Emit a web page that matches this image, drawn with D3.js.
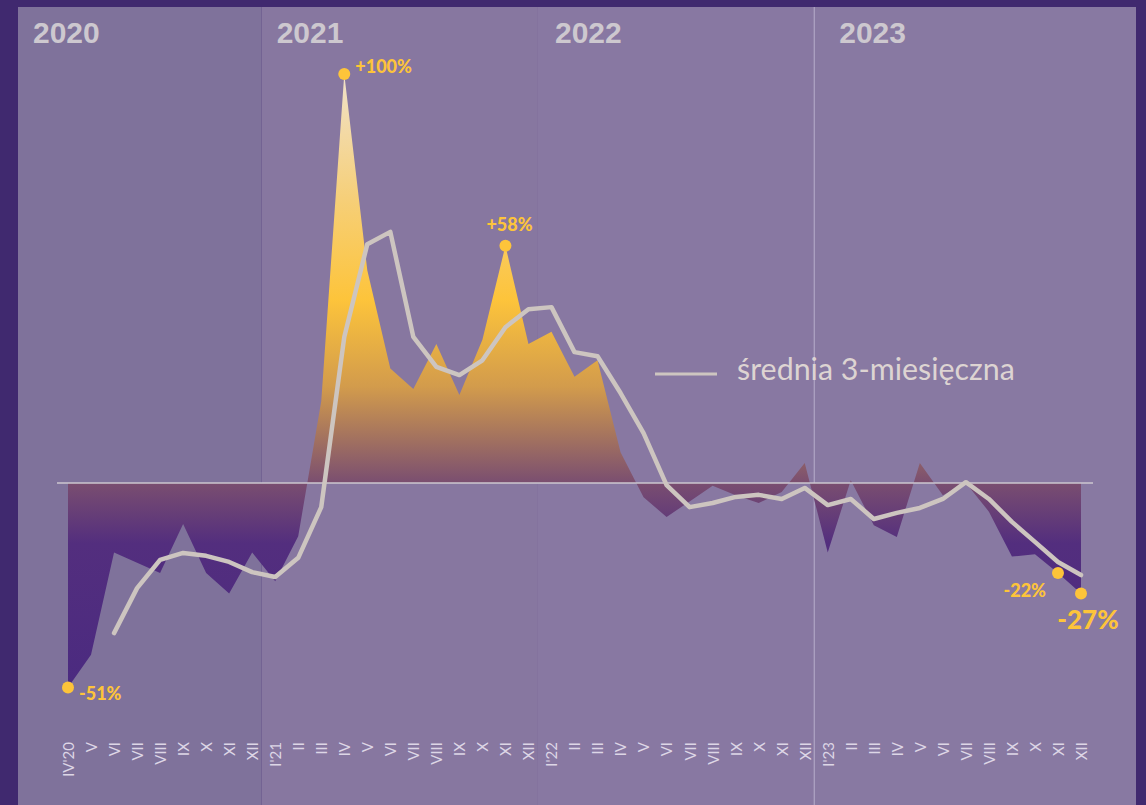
<!DOCTYPE html>
<html><head><meta charset="utf-8">
<script src="https://cdn.jsdelivr.net/npm/d3@7"></script>
<style>
html,body{margin:0;padding:0;background:#40296f;}
svg{display:block;}
</style></head>
<body>
<svg id="chart" width="1146" height="805"></svg>
<script>
// ---- data ----
const months = ["IV'20","V","VI","VII","VIII","IX","X","XI","XII",
  "I'21","II","III","IV","V","VI","VII","VIII","IX","X","XI","XII",
  "I'22","II","III","IV","V","VI","VII","VIII","IX","X","XI","XII",
  "I'23","II","III","IV","V","VI","VII","VIII","IX","X","XI","XII"];
const monthly = [-50,-42,-17,-19.5,-22,-10,-22,-27,-17,
  -24,-13,20,100,52,28,23,34,21.5,35,58,34,
  37,26,30,7.5,-3.5,-8.3,-4.5,-0.7,-3,-4.9,-2.2,4.9,
  -17,0.7,-10.3,-13.2,4.9,-3,0,-7,-18,-17.4,-22,-27];
const avg3 = [null,null,-36.7,-25.7,-18.8,-17.1,-17.8,-19.3,-21.8,
  -23,-18.3,-5.9,35.7,58.4,61.4,35.7,28.4,26.4,30,38.1,42.5,
  43,32,31,22,12.2,-0.5,-5.9,-4.9,-3.4,-2.9,-3.9,-1.2,
  -5.4,-3.9,-8.8,-7.3,-6.1,-3.9,0.2,-3.9,-9.5,-14.4,-19.3,-22.5];
const years = ["2020","2021","2022","2023"];
const yearStart = [0,9,21,33];           // month index where each year begins
const highlights = [
  {i:0,  v:-50, label:"-51%"},
  {i:12, v:100, label:"+100%"},
  {i:19, v:58,  label:"+58%"},
  {i:43, v:-22, label:"-22%"},
  {i:44, v:-27, label:"-27%"}
];
const legendLabel = "średnia 3-miesięczna";

// ---- layout ----
const W = 1146, H = 805;
const panel = {x0:18, x1:1136, y0:7, y1:805};
const svg = d3.select("#chart");
const x = d3.scaleLinear().domain([0, months.length-1]).range([68, 1081]);
const y = d3.scaleLinear().domain([0, 100]).range([483, 74]);

svg.append("rect").attr("width",W).attr("height",H).attr("fill","#40296f");

// year bands
const bandFill = ["#7f729b","#8777a0","#8878a2","#8879a2"];
const bandEdges = yearStart.map((s,k)=> k===0 ? panel.x0 : (x(s-1)+x(s))/2 - 2);
bandEdges.push(panel.x1);
years.forEach((yr,k)=>{
  svg.append("rect")
    .attr("x", bandEdges[k]).attr("y", panel.y0)
    .attr("width", bandEdges[k+1]-bandEdges[k]).attr("height", panel.y1-panel.y0)
    .attr("fill", bandFill[k]);
});
// thin separator before 2023
svg.append("line").attr("x1",bandEdges[3]).attr("x2",bandEdges[3])
  .attr("y1",panel.y0).attr("y2",panel.y1)
  .attr("stroke","#bcb2cf").attr("stroke-width",1);

// year labels
const yearLabelOffset = [15, 15, 17, 25];
years.forEach((yr,k)=>{
  svg.append("text").attr("x", bandEdges[k]+yearLabelOffset[k]).attr("y", 43)
    .attr("font-family","'Liberation Sans', Arial, sans-serif")
    .attr("font-weight","bold").attr("font-size",30)
    .attr("fill","#cdc8cf").text(yr);
});

// gradient
const defs = svg.append("defs");
const grad = defs.append("linearGradient").attr("id","areaGrad")
  .attr("gradientUnits","userSpaceOnUse")
  .attr("x1",0).attr("x2",0).attr("y1",y(100)).attr("y2",700);
[[0,"#f0e2cb"],[0.2,"#f6cf78"],[0.36,"#fdc43b"],[0.5,"#d29b4c"],[0.653,"#7a4e70"],[0.75,"#532e7e"],[1,"#4a2a80"]]
  .forEach(([o,c])=>grad.append("stop").attr("offset",o).attr("stop-color",c));

// area
const area = d3.area().x((d,i)=>x(i)).y0(y(0)).y1(d=>y(d));
svg.append("path").datum(monthly).attr("d",area).attr("fill","url(#areaGrad)");

// zero line
svg.append("line").attr("x1",57).attr("x2",1093).attr("y1",y(0)).attr("y2",y(0))
  .attr("stroke","#cdc7cf").attr("stroke-width",1.6);

// moving average line
const line = d3.line().defined(d=>d!==null).x((d,i)=>x(i)).y(d=>y(d));
svg.append("path").datum(avg3).attr("d",line).attr("fill","none")
  .attr("stroke","#cdc5c0").attr("stroke-width",4.5)
  .attr("stroke-linejoin","round").attr("stroke-linecap","round");

// x axis
const axis = d3.axisBottom(x).tickValues(d3.range(months.length))
  .tickFormat(i=>months[i]).tickSize(0);
const gx = svg.append("g").attr("transform","translate(0,742)").call(axis);
gx.select(".domain").remove();
gx.selectAll("text")
  .attr("x",0).attr("y",0).attr("dy","0.36em")
  .attr("transform","rotate(-90)")
  .style("text-anchor","end")
  .attr("font-family","Lato, 'Open Sans', sans-serif")
  .attr("font-size",15).attr("fill","#ddd6e6");

// highlights
const lblStyle = {
  "-51%":{dx:11,dy:12,anchor:"start",size:18},
  "+100%":{dx:11,dy:-1,anchor:"start",size:18},
  "+58%":{dx:-19,dy:-15,anchor:"start",size:18},
  "-22%":{dx:-12,dy:24,anchor:"end",size:18},
  "-27%":{dx:7,dy:36,anchor:"middle",size:26}
};
highlights.forEach(h=>{
  const cx = x(h.i), cy = y(h.v), s = lblStyle[h.label];
  svg.append("circle").attr("cx",cx).attr("cy",cy).attr("r",6).attr("fill","#fdc43a");
  svg.append("text").attr("x",cx+s.dx).attr("y",cy+s.dy)
    .attr("text-anchor",s.anchor)
    .attr("font-family","Lato, 'Open Sans', sans-serif")
    .attr("font-weight",900).attr("font-size",s.size)
    .attr("fill","#fdc43a").text(h.label);
});

// legend
svg.append("line").attr("x1",655).attr("x2",717).attr("y1",374).attr("y2",374)
  .attr("stroke","#cdc5c0").attr("stroke-width",3);
const lt = svg.append("text").attr("x",737).attr("y",380)
  .attr("font-family","Lato, 'Open Sans', sans-serif")
  .attr("font-size",100).attr("fill","#ddd4d2").text(legendLabel);
const w100 = lt.node().getComputedTextLength();
lt.attr("font-size", 100*278/w100);
</script>
</body></html>
